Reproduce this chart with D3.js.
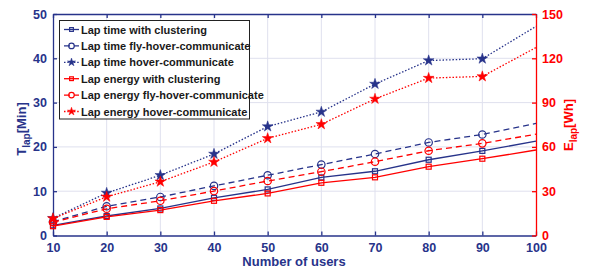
<!DOCTYPE html>
<html><head><meta charset="utf-8">
<script src="https://cdn.jsdelivr.net/npm/d3@7"></script>
<style>body{margin:0;background:#fff;} svg{display:block;} text{font-family:"Liberation Sans",Arial,sans-serif;font-weight:bold;}</style>
</head><body><svg id="c" width="589" height="270"></svg>
<script>
const users = [10,20,30,40,50,60,70,80,90,100];
const timeCluster = [2.3,4.4,6.1,8.5,10.4,13.1,14.5,17.1,19.1,21.3];
const timeFly = [3.1,6.6,8.7,11.2,13.6,16.0,18.4,21.0,22.8,25.3];
const timeHover = [3.9,9.6,13.6,18.4,24.6,27.9,34.2,39.5,39.9,47.2];
const energyCluster = [6.3,12.6,17.2,23.5,28.5,35.7,39.4,46.6,52.0,57.9];
const energyFly = [9.0,18.1,23.5,30.1,36.9,43.2,50.0,57.4,62.4,68.6];
const energyHover = [11.5,26.2,36.4,49.8,65.8,75.3,92.5,106.6,107.7,127.3];
const xTicks = [10,20,30,40,50,60,70,80,90,100];
const leftTicks = [0,10,20,30,40,50];
const rightTicks = [0,30,60,90,120,150];
const labels = ["Lap time with clustering","Lap time fly-hover-communicate","Lap time hover-communicate",
  "Lap energy with clustering","Lap energy fly-hover-communicate","Lap energy hover-communicate"];

const navy = "#27338a", red = "#ff0000", grid = "#dfe0ee";
const svg = d3.select("#c");
const L=53, R=536, T=14, B=235.5;
const x = d3.scaleLinear().domain([10,100]).range([L,R]);
const yL = d3.scaleLinear().domain([0,50]).range([B,T]);
const yR = d3.scaleLinear().domain([0,150]).range([B,T]);

// grid
svg.append("g").selectAll("line").data(xTicks.slice(1,-1)).join("line")
  .attr("x1",d=>x(d)).attr("x2",d=>x(d)).attr("y1",T).attr("y2",B).attr("stroke",grid).attr("stroke-width",1);
svg.append("g").selectAll("line").data(leftTicks.slice(1,-1)).join("line")
  .attr("x1",L).attr("x2",R).attr("y1",d=>yL(d)).attr("y2",d=>yL(d)).attr("stroke",grid).attr("stroke-width",1);

// axes
const ax = svg.append("g").attr("transform",`translate(0,${B})`)
  .call(d3.axisBottom(x).tickValues(xTicks).tickSizeInner(-4).tickSizeOuter(0).tickPadding(8));
const axT = svg.append("g").attr("transform",`translate(0,${T})`)
  .call(d3.axisTop(x).tickValues(xTicks).tickSizeInner(-4).tickSizeOuter(0).tickFormat(""));
const ayL = svg.append("g").attr("transform",`translate(${L},0)`)
  .call(d3.axisLeft(yL).tickValues(leftTicks).tickSizeInner(-4).tickSizeOuter(0).tickPadding(6));
const ayR = svg.append("g").attr("transform",`translate(${R},0)`)
  .call(d3.axisRight(yR).tickValues(rightTicks).tickSizeInner(-4).tickSizeOuter(0).tickPadding(6));
[ax,axT,ayL].forEach(g=>{g.selectAll("path,line").attr("stroke",navy).attr("stroke-width",1.3);
  g.selectAll("text").attr("fill",navy).style("font-size","12.5px");});
ayR.selectAll("path,line").attr("stroke",red).attr("stroke-width",1.3);
ayR.selectAll("text").attr("fill",red).style("font-size","12.5px");
ax.selectAll("text").attr("dy","0.71em");

// titles
svg.append("text").attr("x",294).attr("y",266).attr("text-anchor","middle").attr("fill",navy)
  .style("font-size","13px").text("Number of users");
const tl = svg.append("text").attr("transform","translate(26,129) rotate(-90)").attr("text-anchor","middle")
  .attr("fill",navy).style("font-size","13px");
tl.append("tspan").text("T");
tl.append("tspan").attr("dy","4").style("font-size","10px").text("lap");
tl.append("tspan").attr("dy","-4").text("[Min]");
const tr = svg.append("text").attr("transform","translate(573,125) rotate(-90)").attr("text-anchor","middle")
  .attr("fill",red).style("font-size","13px");
tr.append("tspan").text("E");
tr.append("tspan").attr("dy","4").style("font-size","10px").text("lap");
tr.append("tspan").attr("dy","-4").text("[Wh]");

// series
const series = [
  {v:timeCluster, y:yL, c:navy, dash:null, m:"square"},
  {v:timeFly, y:yL, c:navy, dash:"6,4", m:"circle"},
  {v:timeHover, y:yL, c:navy, dash:"1.5,1.8", m:"star"},
  {v:energyCluster, y:yR, c:red, dash:null, m:"square"},
  {v:energyFly, y:yR, c:red, dash:"6,4", m:"circle"},
  {v:energyHover, y:yR, c:red, dash:"1.5,1.8", m:"star"}
];
function marker(g, type, c, px, py, k){
  if(type==="square") g.append("rect").attr("x",px-2.5*k).attr("y",py-2.5*k).attr("width",5*k).attr("height",5*k)
    .attr("fill","none").attr("stroke",c).attr("stroke-width",1.2);
  else if(type==="circle") g.append("circle").attr("cx",px).attr("cy",py).attr("r",3.7*k)
    .attr("fill","none").attr("stroke",c).attr("stroke-width",1.2);
  else g.append("path").attr("d",d3.symbol(d3.symbolStar,36*k*k)()).attr("transform",`translate(${px},${py})`)
    .attr("fill",c).attr("stroke",c).attr("stroke-width",0.5);
}
const pg = svg.append("g");
series.forEach(s=>{
  const line = d3.line().x((d,i)=>x(users[i])).y(d=>s.y(d));
  pg.append("path").attr("d",line(s.v)).attr("fill","none").attr("stroke",s.c).attr("stroke-width",1.3)
    .attr("stroke-dasharray",s.dash);
  s.v.forEach((d,i)=>{ if(i<s.v.length-1) marker(pg,s.m,s.c,x(users[i]),s.y(d),1); });
});

// legend
const lg = svg.append("g");
lg.append("rect").attr("x",59.5).attr("y",20.5).attr("width",190).attr("height",98.5)
  .attr("fill","#fff").attr("stroke","#222").attr("stroke-width",1);
series.forEach((s,i)=>{
  const yy = 29.5 + i*16.4;
  lg.append("line").attr("x1",64).attr("x2",79).attr("y1",yy).attr("y2",yy).attr("stroke",s.c)
    .attr("stroke-width",1.3).attr("stroke-dasharray",s.dash);
  marker(lg,s.m,s.c,71.5,yy,0.75);
  lg.append("text").attr("x",81).attr("y",yy+4).attr("fill","#1a1a1a").style("font-size","11px").text(labels[i]);
});
</script></body></html>
